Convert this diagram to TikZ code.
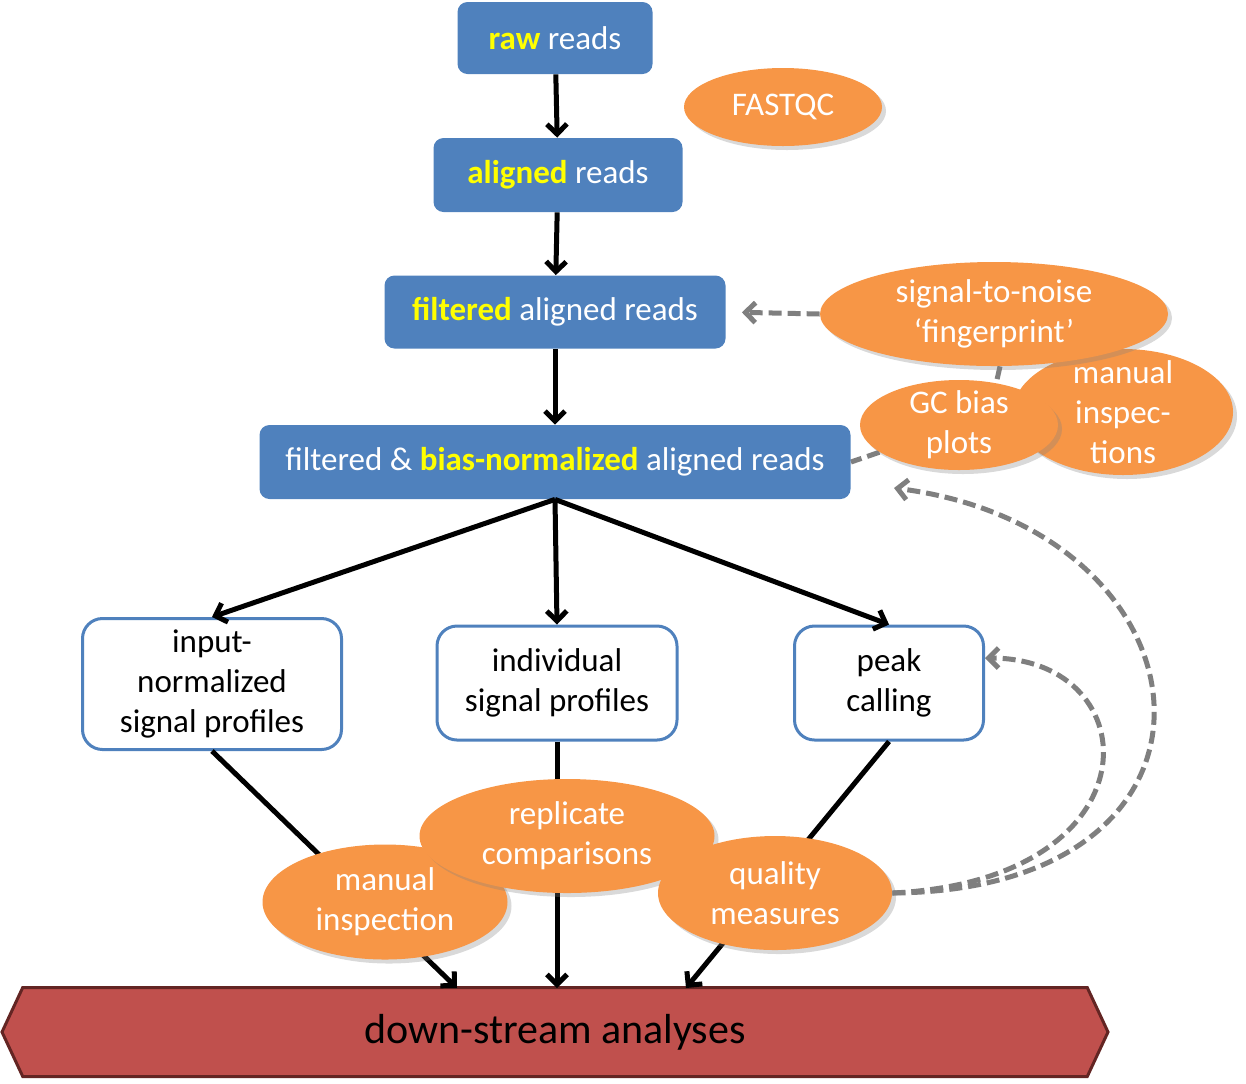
\documentclass[tikz,border=0pt]{standalone}
\usepackage{fontspec}
\setmainfont{Carlito}
\usetikzlibrary{shapes.geometric,shapes.symbols,shadows,arrows.meta}
\definecolor{stepblue}{HTML}{4F81BD}
\definecolor{qcorange}{HTML}{F79646}
\definecolor{qcgray}{HTML}{7F7F7F}
\definecolor{dsred}{HTML}{C0504D}
\definecolor{dsborder}{HTML}{632523}
\definecolor{hiyellow}{HTML}{FFFF00}
\newcommand{\hiword}[1]{\textbf{\color{hiyellow}#1}}
\pgfdeclarelayer{background}
\pgfsetlayers{background,main}
\tikzset{
	readbox/.style={rectangle, rounded corners=5pt, fill=stepblue, text=white, align=center, inner sep=0pt},
	profilebox/.style={rectangle, rounded corners=10pt, draw=stepblue, line width=1.5pt, fill=white, align=center, inner sep=0pt},
	qcell/.style={ellipse, fill=qcorange, inner sep=0pt, drop shadow={opacity=0.3, shadow xshift=2pt, shadow yshift=-2pt}},
	qctext/.style={text=white, align=center, inner sep=0pt},
	flow/.style={line width=2.5pt, -{Straight Barb[length=5pt, width=10pt]}},
	qclink/.style={qcgray, line width=2.5pt, dash pattern=on 6.5pt off 3pt},
	qcflow/.style={qclink, -{Straight Barb[length=5pt, width=10pt]}}
}
\begin{document}
\begin{tikzpicture}[x=0.5pt, y=-0.5pt, font=\fontsize{16.5}{20}\selectfont]
	\useasboundingbox (0,0) rectangle (1246,1083);
	
	% reads
	\node[readbox, minimum width=97.5pt, minimum height=36pt] (raw) at (555,38) {\hiword{raw} reads};
	\node[readbox, minimum width=124.5pt, minimum height=37pt] (aligned) at (558,175) {\hiword{aligned} reads};
	\node[readbox, minimum width=170.5pt, minimum height=36.5pt] (filtered) at (555,312) {\hiword{filtered} aligned reads};
	\node[readbox, minimum width=295.5pt, minimum height=37pt] (biasnorm) at (555,462) {filtered \& \hiword{bias-normalized} aligned reads};
	
	% profiles
	\node[profilebox, minimum width=129.5pt, minimum height=65.5pt] (input) at (212,684) {input-\\normalized\\signal profiles};
	\node[profilebox, minimum width=120pt, minimum height=57pt] (indiv) at (557,683) {individual\\signal profiles};
	\node[profilebox, minimum width=94.5pt, minimum height=57pt] (peak) at (889,683) {peak\\calling};
	
	% down-stream
	\node[signal, signal to=west and east, signal pointer angle=130, fill=dsred, draw=dsborder, line width=1.5pt, minimum width=553pt, minimum height=44.5pt, inner sep=0pt, font=\fontsize{21}{25}\selectfont] (ds) at (555,1032) {down-stream analyses};
	\coordinate (dsA) at (457,988);
	\coordinate (dsB) at (557,988);
	\coordinate (dsC) at (686,988);
	
	% flow
	\draw[flow] (raw) -- (aligned);
	\draw[flow] (aligned) -- (filtered);
	\draw[flow] (filtered) -- (biasnorm);
	\draw[flow] (biasnorm.south) -- (input.north);
	\draw[flow] (biasnorm.south) -- (indiv.north);
	\draw[flow] (biasnorm.south) -- (peak.north);
	\draw[flow] (input.south) -- (dsA);
	\draw[flow] (indiv.south) -- (dsB);
	\draw[flow] (peak.south) -- (dsC);
	
	% quality control
	\node[qcell, minimum width=99pt, minimum height=39pt, label={[qctext]center:FASTQC}] (fastqc) at (783,107) {};
	\node[qcell, minimum width=110pt, minimum height=63pt, label={[qctext]center:{manual\\inspec-\\tions}}] (inspect) at (1123,412) {};
	\node[qcell, minimum width=174pt, minimum height=52pt, label={[qctext]center:{signal-to-noise\\`fingerprint'}}] (s2n) at (994,314) {};
	\node[qcell, minimum width=99pt, minimum height=45pt, label={[qctext]center:{GC bias\\plots}}] (gc) at (959,425) {};
	\node[qcell, minimum width=122.5pt, minimum height=57.5pt, label={[qctext]center:{manual\\inspection}}] (manual) at (385,902) {};
	\node[qcell, minimum width=147.5pt, minimum height=57pt, label={[qctext]center:{replicate\\comparisons}}] (replicate) at (567,836) {};
	\node[qcell, minimum width=117pt, minimum height=57pt, label={[qctext]center:{quality\\measures}}] (quality) at (775,893) {};
	\coordinate (biasback) at (894,488);
	
	% feedback
	\begin{pgfonlayer}{background}
		\draw[qclink] ([xshift=3pt]s2n.south) -- ([xshift=19pt]gc.north);
		\draw[qclink] (gc) -- (biasnorm.east);
	\end{pgfonlayer}
	\draw[qcflow, shorten >=8pt] (s2n.west) -- (filtered.east);
	\draw[qcflow] (quality.east) .. controls (1160,880) and (1150,658) .. ([yshift=12.5pt]peak.east);
	\draw[qcflow] (quality.east) .. controls (1260,890) and (1220,530) .. (biasback);
	
\end{tikzpicture}
\end{document}
